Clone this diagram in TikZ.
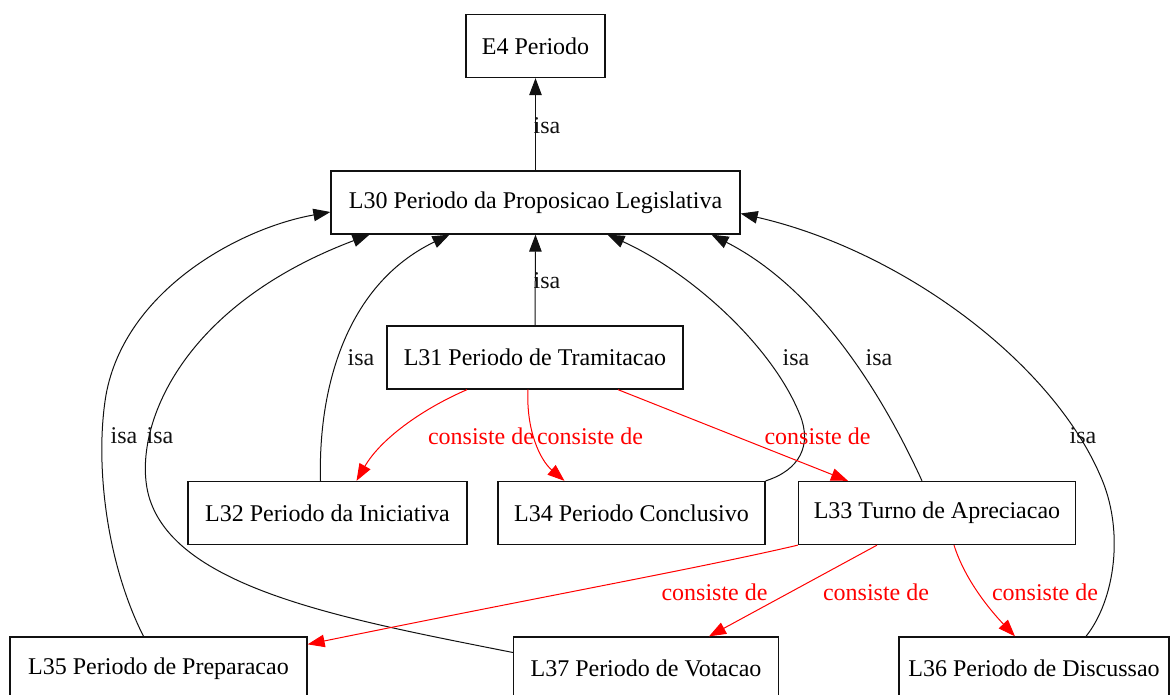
\documentclass[tikz,border=0pt]{standalone}
\usepackage{fontspec}
\setmainfont{Liberation Serif}
\usepackage{xcolor}
\usetikzlibrary{arrows.meta}
\definecolor{ink}{HTML}{111111}
\definecolor{partred}{HTML}{FF0000}
\tikzset{
  classbox/.style={draw=ink,fill=white,line width=1.3pt,
                   minimum height=63pt,inner sep=0pt,
                   font=\fontsize{24}{28}\selectfont},
  isaarr/.style={-{Triangle[length=17pt,width=12.5pt]},line width=1pt,draw=ink},
  partarr/.style={-{Triangle[length=17pt,width=12.5pt]},line width=1pt,draw=partred},
  isalbl/.style={font=\fontsize{24}{28}\selectfont,text=ink,inner sep=0pt},
  partlbl/.style={font=\fontsize{24}{28}\selectfont,text=partred,inner sep=0pt}
}
\begin{document}
\begin{tikzpicture}[x=1pt,y=-1pt]
      \path[use as bounding box,fill=white] (0,0) rectangle (1173,695);

      % class boxes, one row per level
      \node[classbox,minimum width=139pt] (E4) at (535.5,46) {E4 Periodo};
      \node[classbox,minimum width=409pt] (L30) at (535.5,202.5)
        {L30 Periodo da Proposicao Legislativa};
      \node[classbox,minimum width=296pt] (L31) at (535,357.5)
        {L31 Periodo de Tramitacao};
      \node[classbox,minimum width=279pt] (L32) at (327.5,513)
        {L32 Periodo da Iniciativa};
      \node[classbox,minimum width=267pt] (L34) at (631.5,513)
        {L34 Periodo Conclusivo};
      \node[classbox,minimum width=277pt] (L33) at (937,513)
        {L33 Turno de Apreciacao};
      \node[classbox,minimum width=297pt] (L35) at (158.5,668.5)
        {L35 Periodo de Preparacao};
      \node[classbox,minimum width=265pt] (L37) at (646,668.5)
        {L37 Periodo de Votacao};
      \node[classbox,minimum width=270pt] (L36) at (1034,668.5)
        {L36 Periodo de Discussao};

      % isa links up to L30 and E4
      \draw[isaarr] (L30.north) -- (E4.south);
      \draw[isaarr] (L31.north) -- (L30.south);
      \draw[isaarr] ([xshift=-7pt]L32.north)
        .. controls (318,390) and (345,285) .. ([xshift=-86pt]L30.south);
      \draw[isaarr] (L34.north east)
        .. controls (800,470) and (812,445) .. (800,415)
        .. controls (772,345) and (690,272) .. ([xshift=72pt]L30.south);
      \draw[isaarr] ([xshift=-15pt]L33.north)
        .. controls (885,400) and (820,290) .. ([xshift=176pt]L30.south);
      \draw[isaarr] ([xshift=52pt]L36.north)
        .. controls (1115,600) and (1125,530) .. (1100,475)
        .. controls (1050,360) and (900,250) .. ([yshift=-11pt]L30.east);
      \draw[isaarr] ([xshift=-15pt]L35.north)
        .. controls (105,560) and (95,460) .. (106,395)
        .. controls (125,290) and (240,228) .. ([yshift=-9.5pt]L30.west);
      \draw[isaarr] ([yshift=16pt]L37.west)
        .. controls (350,620) and (180,590) .. (150,500)
        .. controls (130,440) and (170,310) .. ([xshift=-166pt]L30.south);

      \node[isalbl] (isa1) at (547,126) {isa};
      \node[isalbl] (isa2) at (547,281) {isa};
      \node[isalbl] (isa3) at (361,358) {isa};
      \node[isalbl] (isa4) at (796,358) {isa};
      \node[isalbl] (isa5) at (879,358) {isa};
      \node[isalbl] (isa6) at (124,436) {isa};
      \node[isalbl] (isa7) at (160,436) {isa};
      \node[isalbl] (isa8) at (1083,436) {isa};

      % consiste de links (red)
      \draw[partarr] ([xshift=-68pt]L31.south)
        .. controls (420,410) and (380,440) .. ([xshift=29pt]L32.north);
      \draw[partarr] ([xshift=-7pt]L31.south)
        .. controls (526,430) and (540,460) .. ([xshift=-67pt]L34.north);
      \draw[partarr] ([xshift=83pt]L31.south) -- ([xshift=-89pt]L33.north);
      \draw[partarr] (L33.south west)
        .. controls (700,568) and (550,595) .. ([yshift=-8pt]L35.north east);
      \draw[partarr] ([xshift=-60pt]L33.south) -- ([xshift=63pt]L37.north);
      \draw[partarr] ([xshift=17pt]L33.south)
        .. controls (965,580) and (990,610) .. ([xshift=-19pt]L36.north);

      \node[partlbl] (cd1) at (481,436) {consiste de};
      \node[partlbl] (cd2) at (590,436) {consiste de};
      \node[partlbl] (cd3) at (817.5,436) {consiste de};
      \node[partlbl] (cd4) at (714.5,592) {consiste de};
      \node[partlbl] (cd5) at (876,592) {consiste de};
      \node[partlbl] (cd6) at (1045,592) {consiste de};
    \end{tikzpicture}
\end{document}
